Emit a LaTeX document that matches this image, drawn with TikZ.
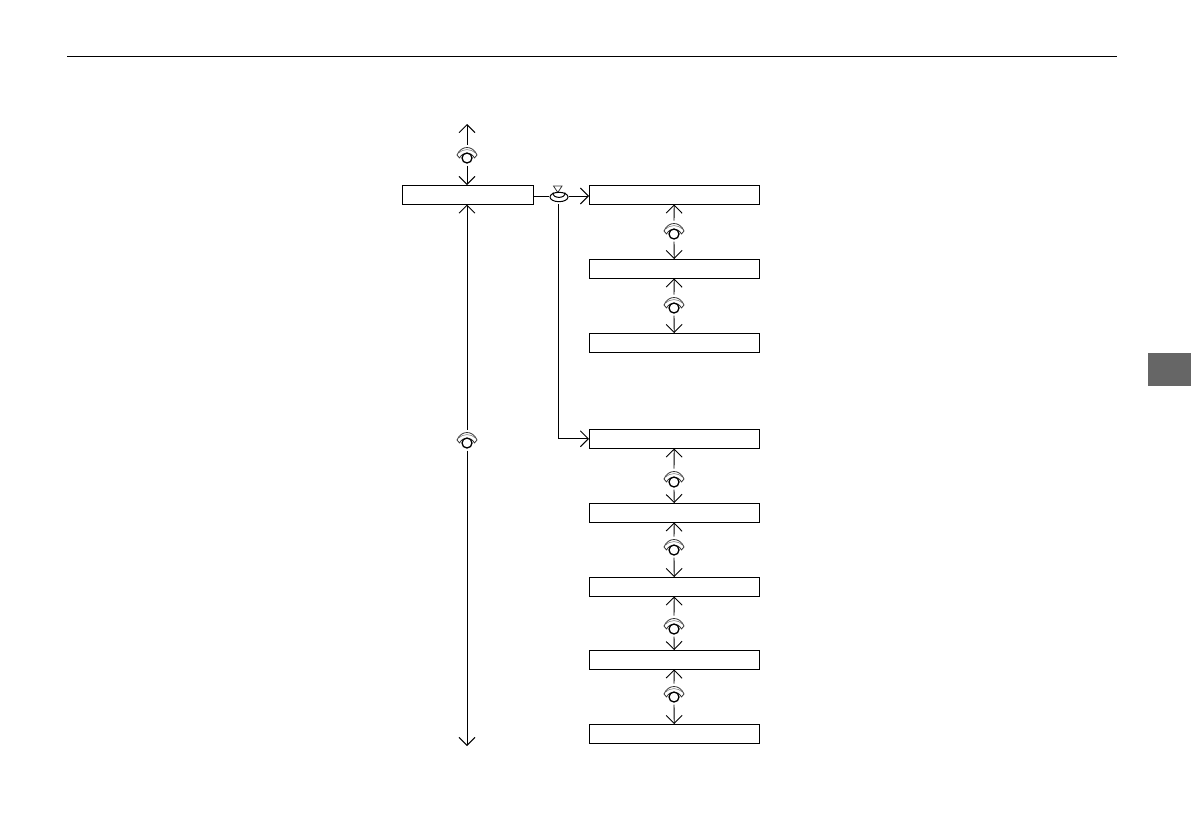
\documentclass[tikz,border=0pt]{standalone}
\usetikzlibrary{arrows.meta}
\tikzset{
  menubox/.style={draw,line width=1pt,minimum height=19.5pt,inner sep=0pt,outer sep=0pt,anchor=north west},
  leftbox/.style={menubox,minimum width=131pt},
  rightbox/.style={menubox,minimum width=170.5pt},
  link/.style={line width=.9pt,-{Straight Barb[length=8pt,width=16pt,line width=.9pt]}},
  plain/.style={line width=.9pt},
  iconbox/.style={inner sep=0pt,outer sep=0pt,minimum width=20pt,minimum height=21pt},
  iconline/.style={line width=.8pt,black!80},
}
\newcommand{\wheelicon}[2]{%
  \node[iconbox] (#1) at #2 {};
  \begin{scope}[shift={#2}]
    \draw[iconline,line join=round] (-10,0) .. controls (-6,-10) and (6,-10) .. (10,0)
      -- (7.5,3) .. controls (4,-3.5) and (-4,-3.5) .. (-7.5,3) -- cycle;
    \draw[line width=.5pt,black!60] (-8.5,-2) .. controls (-4,-6.5) and (4,-6.5) .. (8.5,-2);
    \draw[line width=1.3pt,fill=white] (0,3) circle (5pt);
  \end{scope}}
\begin{document}
\begin{tikzpicture}[x=1pt,y=-1pt]
\useasboundingbox (0,0) rectangle (1191,839);
\coordinate (ruleL) at (67,56);
\coordinate (ruleR) at (1117,56);
\draw[line width=1pt] (ruleL) -- (ruleR);
\fill[black!60] (1148,353) rectangle (1191,386);

\node[leftbox] (main) at (402,185) {};
\node[rightbox] (a1) at (589,185) {};
\node[rightbox] (a2) at (589,259) {};
\node[rightbox] (a3) at (589,333) {};
\node[rightbox] (b1) at (589,429) {};
\node[rightbox] (b2) at (589,503) {};
\node[rightbox] (b3) at (589,577) {};
\node[rightbox] (b4) at (589,650) {};
\node[rightbox] (b5) at (589,724) {};

\coordinate (topend) at (467,124);
\coordinate (botend) at (467,746);

\wheelicon{w0}{(467,155)}
\wheelicon{wl}{(467,440)}
\wheelicon{wa1}{(674,231)}
\wheelicon{wa2}{(674,305)}
\wheelicon{wb1}{(674,479)}
\wheelicon{wb2}{(674,547)}
\wheelicon{wb3}{(674,626)}
\wheelicon{wb4}{(674,694)}

% push icon
\node[inner sep=0pt,outer sep=0pt,minimum width=20pt,minimum height=16pt] (push) at (559,196) {};
\draw[iconline] (553.5,186) -- (562,186) -- (557.8,192.5) -- cycle;
\draw[line width=1pt] (559,197) ellipse (9pt and 4.7pt);
\draw[line width=1pt] (553,192.5) .. controls (552,199) and (566,199) .. (565,192.5);
\coordinate (downstart) at (558.5,204);

% connectors
\draw[link] (w0.north) -- (topend);
\draw[link] (w0.south) -- (main.north -| w0.south);
\draw[link] (wl.north) -- (wl.north |- main.south);
\draw[link] (wl.south) -- (botend);
\draw[plain] (main.east |- push.west) -- (push.west);
\draw[link] (push.east) -- (a1.west |- push.east);
\draw[link] (downstart) |- (b1.west);

\foreach \w/\u/\d in {wa1/a1/a2,wa2/a2/a3,wb1/b1/b2,wb2/b2/b3,wb3/b3/b4,wb4/b4/b5}{
  \draw[link] (\w.north) -- (\u.south);
  \draw[link] (\w.south) -- (\d.north);
}
\end{tikzpicture}
\end{document}
